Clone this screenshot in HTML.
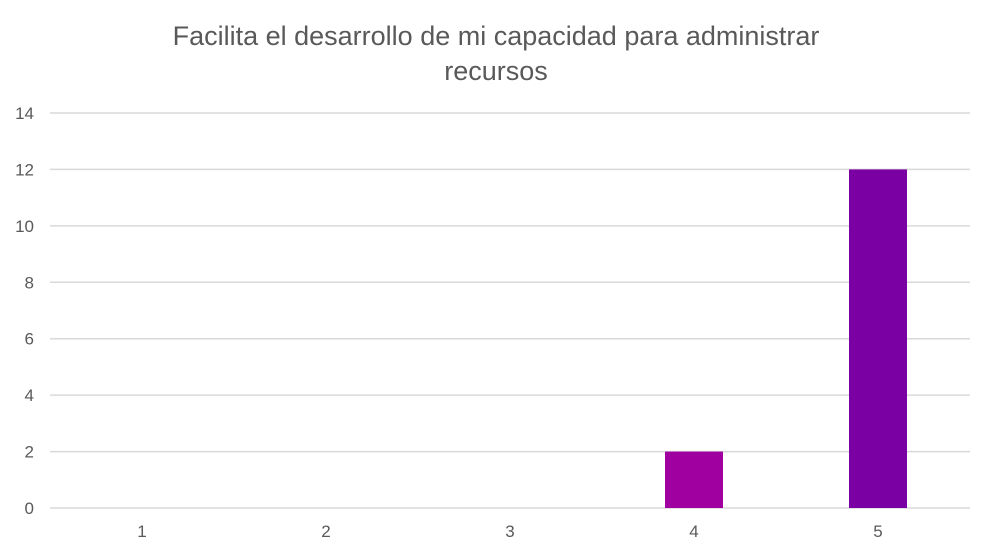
<!DOCTYPE html>
<html><head><meta charset="utf-8"><style>
body{margin:0;background:#fff;}
svg{display:block;font-family:"Liberation Sans",Arial,sans-serif;}
</style></head><body>
<svg id="chart" width="992" height="555">
<text x="496" y="45" text-anchor="middle" font-size="27" fill="#595959">Facilita el desarrollo de mi capacidad para administrar</text>
<text x="496" y="80" text-anchor="middle" font-size="27" fill="#595959">recursos</text>
<g id="grid"></g><g id="bars"></g><g id="labels"></g>
</svg>
<script>
const categories=["1","2","3","4","5"];
const values=[0,0,0,2,12];
const colors=["#A000A0","#A000A0","#A000A0","#A000A0","#7B00A3"];
const yTicks=[0,2,4,6,8,10,12,14];
const NS="http://www.w3.org/2000/svg";
const x0=50,x1=970,y0=508,yTop=113,yMax=14;
const y=v=>y0-(v/yMax)*(y0-yTop);
const band=(x1-x0)/categories.length;
const xc=i=>x0+band*(i+0.5);
const grid=document.getElementById('grid'),bars=document.getElementById('bars'),labels=document.getElementById('labels');
function mk(t,a){const e=document.createElementNS(NS,t);for(const k in a)e.setAttribute(k,a[k]);return e;}
yTicks.forEach(t=>{
 const l=mk('line',{x1:x0,x2:x1,y1:y(t),y2:y(t),stroke:'#d9d9d9','stroke-width':1.5});
 
 
 grid.appendChild(l);
 const tx=mk('text',{x:34,y:y(t)+6,'text-anchor':'end','font-size':17,fill:'#595959'});
 tx.textContent=t;
 
 
 labels.appendChild(tx);
});
categories.forEach((c,i)=>{
 const w=58;
 if(values[i]>0){
  const r=mk('rect',{x:xc(i)-w/2,y:y(values[i]),width:w,height:y0-y(values[i]),fill:colors[i]});
  
  
  bars.appendChild(r);
 }
 const tx=mk('text',{x:xc(i),y:537,'text-anchor':'middle','font-size':17,fill:'#595959'});
 tx.textContent=c;
 
 
 labels.appendChild(tx);
});
</script>
</body></html>
